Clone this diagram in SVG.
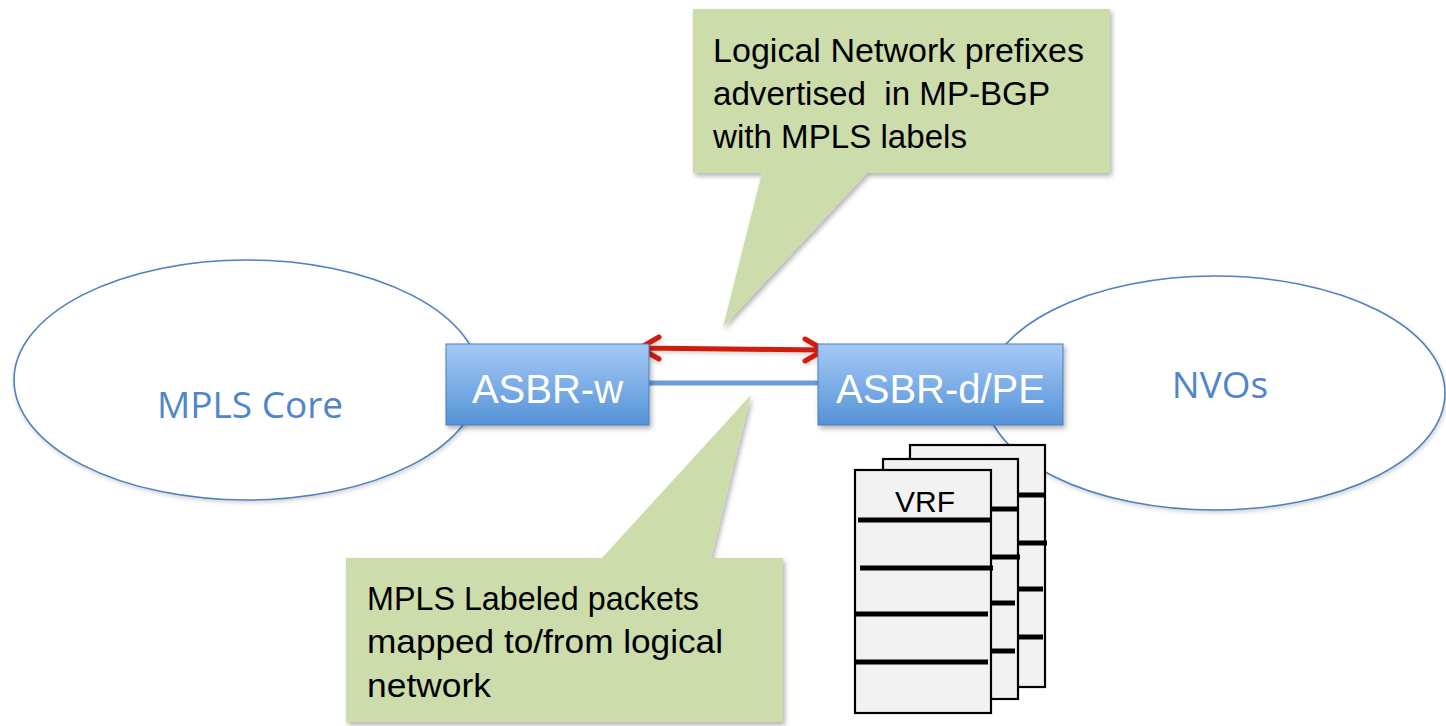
<svg xmlns="http://www.w3.org/2000/svg" width="1446" height="726" viewBox="0 0 1446 726">
  <defs>
    <linearGradient id="boxGrad" x1="0" y1="0" x2="0" y2="1">
      <stop offset="0" stop-color="#a6c9f7"/>
      <stop offset="1" stop-color="#5593d6"/>
    </linearGradient>
    <filter id="shadow" x="-10%" y="-10%" width="125%" height="130%">
      <feDropShadow dx="2" dy="3" stdDeviation="2.5" flood-color="#000" flood-opacity="0.3"/>
    </filter>
    <filter id="softShadow" x="-10%" y="-10%" width="125%" height="130%">
      <feDropShadow dx="1" dy="2" stdDeviation="2" flood-color="#000" flood-opacity="0.18"/>
    </filter>
    <style>
      .cloud { fill: #ffffff; stroke: #4f81bd; stroke-width: 1.6; filter: url(#softShadow); }
      .cloudText { font-family: "Open Sans", "Liberation Sans", sans-serif; font-size: 37px; fill: #4f86c9; text-anchor: middle; }
      .box { fill: url(#boxGrad); stroke: #4a7ebb; stroke-width: 1; filter: url(#shadow); }
      .boxText { font-family: "Liberation Sans", Arial, sans-serif; font-size: 40px; fill: #ffffff; text-anchor: middle; }
      .callout { fill: #cddcab; filter: url(#shadow); }
      .calloutText { font-family: "Liberation Sans", Arial, sans-serif; font-size: 33.5px; fill: #000000; white-space: pre; }
      .page { fill: #f2f2f2; stroke: #000000; stroke-width: 2.2; }
      .row { stroke: #000000; stroke-width: 5; fill: none; }
      .vrfText { font-family: "Liberation Sans", Arial, sans-serif; font-size: 30px; fill: #000000; text-anchor: middle; }
      .link { stroke: #6a9bd2; stroke-width: 5; fill: none; }
      .bgp { stroke: #d01f0c; stroke-width: 5; fill: none; stroke-linecap: round; stroke-linejoin: round; filter: url(#softShadow); }
    </style>
  </defs>

  <rect width="1446" height="726" fill="#ffffff"/>

  <g id="mpls-core">
    <ellipse class="cloud" cx="247" cy="380" rx="233" ry="120"/>
    <text class="cloudText" x="250" y="418">MPLS Core</text>
  </g>

  <g id="nvos">
    <ellipse class="cloud" cx="1215" cy="393" rx="230" ry="117"/>
    <text class="cloudText" x="1220" y="398">NVOs</text>
  </g>

  <g id="callout-top">
    <path class="callout" d="M693,9 H1110 V173 H867 L723,327 L762,173 H693 Z"/>
    <text class="calloutText" x="713" y="62" textLength="371" lengthAdjust="spacingAndGlyphs">Logical Network prefixes</text>
    <text class="calloutText" x="713" y="105" textLength="337" lengthAdjust="spacingAndGlyphs">advertised  in MP-BGP</text>
    <text class="calloutText" x="713" y="148" textLength="254" lengthAdjust="spacingAndGlyphs">with MPLS labels</text>
  </g>

  <g id="callout-bottom">
    <path class="callout" d="M346,558 H602 L751,395 L711,558 H783 V722 H346 Z"/>
    <text class="calloutText" x="367" y="610" textLength="332" lengthAdjust="spacingAndGlyphs">MPLS Labeled packets</text>
    <text class="calloutText" x="367" y="653" textLength="356" lengthAdjust="spacingAndGlyphs">mapped to/from logical</text>
    <text class="calloutText" x="367" y="697" textLength="124" lengthAdjust="spacingAndGlyphs">network</text>
  </g>

  <g id="connectors">
    <line class="link" x1="648" y1="383" x2="818" y2="383"/>
    <path class="bgp" d="M640,348 L824,350 M659,337 L640,348 L659,359 M805,339 L824,350 L805,361"/>
  </g>

  <g id="asbr-w">
    <rect class="box" x="446" y="344" width="203" height="81"/>
    <text class="boxText" x="547.5" y="403">ASBR-w</text>
  </g>

  <g id="asbr-d-pe">
    <rect class="box" x="818" y="344" width="245" height="81"/>
    <text class="boxText" x="940.5" y="403">ASBR-d/PE</text>
  </g>

  <g id="vrf-stack">
    <rect class="page" x="910" y="445" width="135" height="242"/>
    <line class="row" x1="1018" y1="495" x2="1045" y2="495"/>
    <line class="row" x1="1018" y1="543" x2="1047" y2="543"/>
    <line class="row" x1="1018" y1="589" x2="1043" y2="589"/>
    <line class="row" x1="1018" y1="637" x2="1043" y2="637"/>

    <rect class="page" x="883" y="459" width="135" height="240"/>
    <line class="row" x1="991" y1="509" x2="1017" y2="509"/>
    <line class="row" x1="991" y1="557" x2="1020" y2="557"/>
    <line class="row" x1="991" y1="603" x2="1015" y2="603"/>
    <line class="row" x1="991" y1="651" x2="1015" y2="651"/>

    <rect class="page" x="855" y="470" width="136" height="243"/>
    <text class="vrfText" x="925" y="512">VRF</text>
    <line class="row" x1="858" y1="520" x2="990" y2="520"/>
    <line class="row" x1="860" y1="568" x2="993" y2="568"/>
    <line class="row" x1="855" y1="614" x2="988" y2="614"/>
    <line class="row" x1="855" y1="662" x2="988" y2="662"/>
  </g>
</svg>
